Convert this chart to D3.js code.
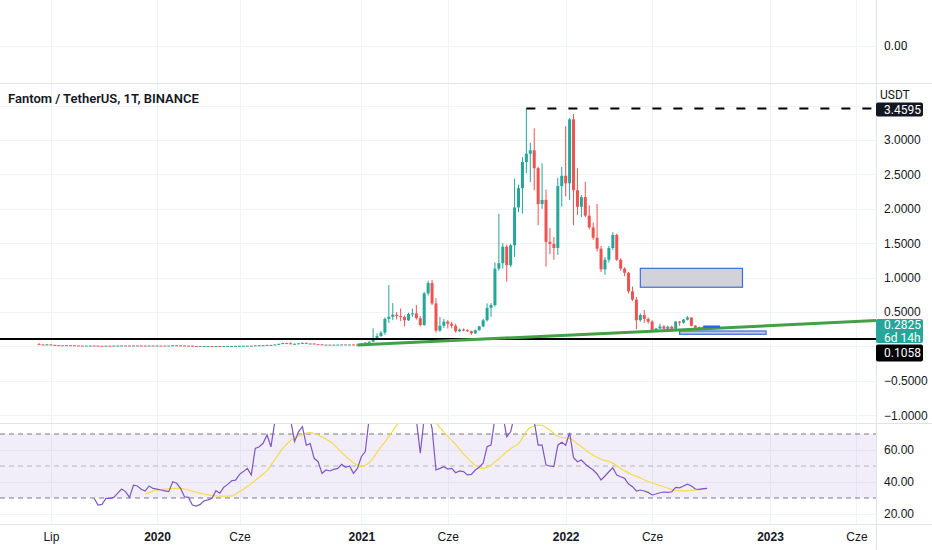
<!DOCTYPE html>
<html>
<head>
<meta charset="utf-8">
<script src="https://cdn.jsdelivr.net/npm/d3@7"></script>
<style>
  body { margin: 0; background: #fff; }
  svg { display: block; font-family: Roboto, "Liberation Sans", sans-serif; }
</style>
</head>
<body>
<svg id="chart" width="932" height="550"></svg>
<script>
// weekly FTM/USDT candles, first bar = week of 2019-06-10
const firstWeek = new Date(Date.UTC(2019, 5, 10));

const opens = [
  .033,.028,.027,.0285,.022,.0175,.016,.0155,.017,.0162,
  .013,.0122,.0112,.0118,.0128,.0115,.0095,.0092,.0105,.0102,
  .011,.012,.013,.0125,.0108,.0132,.0128,.012,.0112,.0128,
  .0122,.0124,.0122,.0118,.0125,.016,.0158,.014,.011,.0105,
  .0045,.0038,.0042,.0046,.0048,.0045,.0053,.005,.0058,.0062,
  .007,.0072,.0085,.0095,.0105,.0096,.015,.0165,.0182,.022,
  .02,.028,.037,.048,.045,.034,.038,.044,.052,.04,
  .042,.032,.03,.024,.0255,.025,.0258,.0262,.0285,.0275,
  .028,.024,.026,.04,.055,.068,.12,.15,.2,.4,
  .43,.46,.44,.43,.38,.47,.48,.41,.31,.77,
  .92,.625,.23,.3,.36,.33,.3,.22,.245,.235,
  .22,.19,.235,.29,.38,.56,.6,1.13,1.21,1.45,
  1.18,1.47,2.02,2.3,2.68,2.8,2.85,2.59,2.07,2.13,
  1.52,1.49,1.43,2.33,2.48,2.37,3.3,2.27,2.03,2.17,
  1.9,1.73,1.58,1.42,1.12,1.26,1.43,1.62,1.26,1.13,
  1.07,.8,.68,.38,.456,.4,.36,.23,.26,.29,
  .255,.287,.255,.36,.345,.39,.42,.3,.27,.28,.262
];
const highs = [
  .048,.038,.035,.03,.024,.019,.0175,.018,.019,.0165,
  .0135,.0125,.0125,.0135,.013,.0118,.01,.011,.0108,.0125,
  .013,.014,.0132,.0128,.014,.014,.013,.0122,.0135,.013,
  .013,.0135,.0128,.013,.018,.0195,.017,.0145,.0118,.0108,
  .005,.0048,.005,.0052,.005,.0055,.006,.006,.0065,.0075,
  .008,.009,.01,.011,.0108,.016,.0175,.019,.023,.023,
  .029,.04,.055,.052,.06,.042,.048,.056,.053,.045,
  .043,.034,.031,.027,.0265,.027,.029,.03,.029,.03,
  .0285,.027,.045,.06,.08,.263,.19,.22,.42,.89,
  .63,.5,.55,.45,.49,.55,.6,.44,.79,.955,
  .965,.7,.43,.4,.38,.36,.33,.26,.26,.25,
  .23,.245,.3,.4,.625,.63,1.22,1.93,1.5,1.48,
  1.49,2.44,2.35,2.75,3.4595,2.96,3.17,2.61,2.66,2.28,
  1.72,1.59,2.45,2.61,3.2,3.32,3.38,2.59,2.2,2.39,
  2.05,1.8,2.07,1.46,1.3,1.46,1.66,1.64,1.28,1.15,
  1.08,.87,.72,.48,.53,.42,.38,.27,.33,.31,
  .3,.3,.37,.37,.4,.44,.42,.31,.29,.29,.29
];
const lows = [
  .025,.026,.02,.021,.016,.014,.015,.015,.016,.012,
  .0118,.0105,.011,.0112,.011,.0085,.0088,.009,.0098,.0095,
  .0105,.0115,.0118,.01,.0105,.012,.0115,.01,.011,.0118,
  .0115,.0118,.011,.0112,.0122,.015,.013,.0105,.0098,.0025,
  .003,.0035,.0038,.0042,.004,.0043,.0048,.0048,.0052,.006,
  .0065,.007,.0082,.009,.0092,.0095,.014,.0158,.0175,.0185,
  .0195,.027,.035,.04,.031,.03,.036,.039,.038,.038,
  .03,.028,.022,.0225,.024,.024,.023,.0255,.026,.027,
  .022,.0235,.024,.035,.05,.065,.1,.14,.17,.34,
  .38,.39,.37,.29,.37,.43,.39,.29,.3,.74,
  .6,.2,.21,.27,.26,.26,.2,.21,.22,.21,
  .166,.18,.23,.28,.36,.43,.58,1.1,1.13,.94,
  1.15,1.3,1.95,1.93,2.52,2.39,2.27,1.76,2,1.16,
  1.34,1.26,1.33,2.03,2.18,2.13,1.76,1.91,1.88,1.88,
  1.7,1.55,1.38,1.08,1.04,1.22,1.4,1.24,1.1,1.02,
  .77,.66,.25,.36,.34,.33,.21,.22,.25,.25,
  .245,.24,.25,.3,.33,.38,.29,.25,.26,.25,.26
];
const closes = [
  .028,.027,.0285,.022,.0175,.016,.0155,.017,.0162,.013,
  .0122,.0112,.0118,.0128,.0115,.0095,.0092,.0105,.0102,.011,
  .012,.013,.0125,.0108,.0132,.0128,.012,.0112,.0128,.0122,
  .0124,.0122,.0118,.0125,.016,.0158,.014,.011,.0105,.0045,
  .0038,.0042,.0046,.0048,.0045,.0053,.005,.0058,.0062,.007,
  .0072,.0085,.0095,.0105,.0096,.015,.0165,.0182,.022,.02,
  .028,.037,.048,.045,.034,.038,.044,.052,.04,.042,
  .032,.03,.024,.0255,.025,.0258,.0262,.0285,.0275,.028,
  .024,.026,.04,.055,.068,.12,.15,.2,.4,.43,
  .46,.44,.43,.38,.47,.48,.41,.31,.77,.92,
  .625,.23,.3,.36,.33,.3,.22,.245,.235,.22,
  .19,.235,.29,.38,.56,.6,1.13,1.21,1.45,1.18,
  1.47,2.02,2.3,2.68,2.8,2.85,2.59,2.07,2.13,1.52,
  1.49,1.43,2.33,2.48,2.37,3.3,2.27,2.03,2.17,1.9,
  1.73,1.58,1.42,1.12,1.26,1.43,1.62,1.26,1.13,1.07,
  .8,.68,.38,.456,.4,.36,.23,.26,.29,.255,
  .287,.255,.36,.345,.39,.42,.3,.27,.28,.262,.2825
];

const rsiStart = 14;
const rsiValues = [
  29.8,25.6,26,29.8,29.8,30.4,33,35.6,34,30.4,
  38,37.5,35.5,34.4,37.5,36,35.5,35,34.5,34,
  40.2,39.2,36,30.8,30.4,25.6,25,26,28.3,28.8,
  29.8,34.6,33,36.7,38.5,40.8,41.2,44.8,46.5,48.5,
  44.4,61,62,64.2,69.4,62,78,84,88,82,
  79,65.2,71.4,74.6,63,64,54.8,52.7,45.4,47.5,
  46.9,47.9,48.5,51,49.2,50,45.4,48.5,55.8,59,
  80,86,88,89,92,90,88,84,82,78,
  82,83,79,58,80,84,73.5,47.5,48.5,49.6,
  48.1,48.5,45.8,46.9,46.5,44.4,44.8,47.5,49.2,51.7,
  62,63.1,80,81,82,68.3,71.4,82,84,86,
  87,86,78,63,63,50.6,50,49.6,63,64.8,
  63,70.8,55.2,52.7,53.75,51.25,49.2,47.5,45,41.25,
  43.75,46.4,48.9,44.4,43.3,42.3,38.75,37.1,34.4,35,
  34.4,33.5,31.9,32.5,33.3,33.75,33.5,33.9,36.7,36.4,
  37.5,38.6,37.5,35.6,35.4,35.8,36
];
// RSI-based MA (yellow), starts at bar 27
const maStart = 27;
const maValues = [
  32.5,33.5,34.3,35,35.3,35.6,35.8,36,36,36,
  35.6,35,34.3,33.6,33,32.5,32,31.6,31.3,31.2,
  31.2,31.2,31.3,32.5,34,35.5,37.2,39,41,43,
  45,47,50.5,54,57.5,61,63.5,66,67.7,68.8,
  69.8,70.6,70.8,70.3,69.4,68.2,66.8,65.3,63.5,61,
  58.5,56,54,52,50.5,49.6,50.5,52,55,58.5,
  62,65,68.5,72,75.5,78.5,81,83,84.5,85,
  84,83,81.5,80,77,74,71,68.5,66,63.5,
  60.5,57.5,55,52.5,50.5,49,48.5,49.3,50.6,52.5,
  54.5,56.8,59,60.8,62.4,64,67.5,71.5,74,75,
  75.6,75.4,74,72.3,70.5,68.7,67.8,67.5,67.3,65.8,
  63.8,62,60.2,58.3,56.8,55.5,54.2,53.4,52.9,51.8,
  50.2,48.5,47,45.7,44.5,43.5,42.5,41.4,40.3,39.4,
  38.6,37.8,37,36.2,35.3,34.8,34.5,34.4,34.5,34.8,
  35,35.2,35.5,35.7
];

const timeTicks = [
  Date.UTC(2019,6,1), Date.UTC(2020,0,6), Date.UTC(2020,5,1), Date.UTC(2021,0,4),
  Date.UTC(2021,5,7), Date.UTC(2022,0,3), Date.UTC(2022,5,6), Date.UTC(2023,0,2), Date.UTC(2023,5,5)
];
const timeLabels = ["Lip","2020","Cze","2021","Cze","2022","Cze","2023","Cze"];
const priceTicks = [3, 2.5, 2, 1.5, 1, 0.5, -0.5, -1];
const priceGrid = [3.5, 3, 2.5, 2, 1.5, 1, 0.5, 0, -0.5, -1];
const rsiTicks = [60, 40, 20];

// drawings on the chart
const athPrice = 3.4595, athDate = Date.UTC(2021,9,25);
const supportPrice = 0.1058;
const trendDates = [Date.UTC(2020,11,28), Date.UTC(2023,6,10)];
const trendPrices = [0.02, 0.375];
const grayZone = { dates: [Date.UTC(2022,4,16), Date.UTC(2022,10,14)], prices: [1.135, 0.86] };
const blueZone = { dates: [Date.UTC(2022,6,25), Date.UTC(2022,11,26)], prices: [0.224, 0.176] };
const blueLine = { dates: [Date.UTC(2022,8,5), Date.UTC(2022,9,5)], price: 0.286 };

const lastPrice = 0.2825;

// ---- layout
const plotRight = 876;
const mainTop = 84, mainBottom = 423, rsiTop = 424, rsiBottom = 524;
const up = "#26a69a", down = "#ef5350", grid = "#f0f3fa", sep = "#e0e3eb", ink = "#131722";

const svg = d3.select("#chart");

const x = d3.scaleUtc().domain([Date.UTC(2020,0,6), Date.UTC(2023,0,2)]).range([157, 770]);
const y = d3.scaleLinear().domain([0, 3]).range([346.4, 140]);
const yr = d3.scaleLinear().domain([20, 60]).range([514, 450]);

const defs = svg.append("defs");
defs.append("clipPath").attr("id", "clipMain")
  .append("rect").attr("x", 0).attr("y", mainTop).attr("width", plotRight).attr("height", mainBottom - mainTop);
defs.append("clipPath").attr("id", "clipRsi")
  .append("rect").attr("x", 0).attr("y", rsiTop).attr("width", plotRight).attr("height", rsiBottom - rsiTop);

// grid
const gridG = svg.append("g");
gridG.selectAll(".vgrid").data(timeTicks).join("line")
  .attr("x1", d => Math.round(x(d)) + 0.5).attr("x2", d => Math.round(x(d)) + 0.5)
  .attr("y1", 0).attr("y2", rsiBottom).attr("stroke", grid);
gridG.append("line").attr("x1", 0).attr("x2", plotRight).attr("y1", 46.5).attr("y2", 46.5).attr("stroke", grid);
gridG.selectAll(".hgrid").data(priceGrid).join("line")
  .attr("x1", 0).attr("x2", plotRight)
  .attr("y1", d => Math.round(y(d)) + 0.5).attr("y2", d => Math.round(y(d)) + 0.5).attr("stroke", grid);
gridG.selectAll(".rgrid").data(rsiTicks).join("line")
  .attr("x1", 0).attr("x2", plotRight)
  .attr("y1", d => Math.round(yr(d)) + 0.5).attr("y2", d => Math.round(yr(d)) + 0.5).attr("stroke", grid);

// ---- main pane
const main = svg.append("g").attr("clip-path", "url(#clipMain)");
const weeks = opens.map((o, i) => ({
  date: d3.utcMonday.offset(firstWeek, i), o, h: highs[i], l: lows[i], c: closes[i]
}));

main.append("rect")
  .attr("x", x(grayZone.dates[0])).attr("y", y(grayZone.prices[0]))
  .attr("width", x(grayZone.dates[1]) - x(grayZone.dates[0]))
  .attr("height", y(grayZone.prices[1]) - y(grayZone.prices[0]))
  .attr("fill", "#d1d3d9").attr("stroke", "#3f6be0").attr("stroke-width", 1.2);
main.append("rect")
  .attr("x", x(blueZone.dates[0])).attr("y", y(blueZone.prices[0]))
  .attr("width", x(blueZone.dates[1]) - x(blueZone.dates[0]))
  .attr("height", y(blueZone.prices[1]) - y(blueZone.prices[0]))
  .attr("fill", "#c2c8e6").attr("stroke", "#3f6be0").attr("stroke-width", 1.2);

const candles = main.append("g");
candles.selectAll("line").data(weeks).join("line")
  .attr("x1", d => x(d.date)).attr("x2", d => x(d.date))
  .attr("y1", d => y(d.h)).attr("y2", d => y(d.l))
  .attr("stroke", d => d.c >= d.o ? up : down).attr("stroke-width", 1);
candles.selectAll("rect").data(weeks).join("rect")
  .attr("x", d => x(d.date) - 1.5).attr("width", 3)
  .attr("y", d => y(Math.max(d.o, d.c)))
  .attr("height", d => Math.max(1, Math.abs(y(d.o) - y(d.c))))
  .attr("fill", d => d.c >= d.o ? up : down);

main.append("line")
  .attr("x1", 0).attr("x2", plotRight)
  .attr("y1", y(supportPrice)).attr("y2", y(supportPrice))
  .attr("stroke", "#000").attr("stroke-width", 2);
main.append("line")
  .attr("x1", x(trendDates[0])).attr("x2", x(trendDates[1]))
  .attr("y1", y(trendPrices[0])).attr("y2", y(trendPrices[1]))
  .attr("stroke", "#43a047").attr("stroke-width", 3);
main.append("line")
  .attr("x1", x(athDate)).attr("x2", plotRight)
  .attr("y1", y(athPrice)).attr("y2", y(athPrice))
  .attr("stroke", "#000").attr("stroke-width", 2).attr("stroke-dasharray", "9,12");
main.append("line")
  .attr("x1", x(blueLine.dates[0])).attr("x2", x(blueLine.dates[1]))
  .attr("y1", y(blueLine.price)).attr("y2", y(blueLine.price))
  .attr("stroke", "#2962ff").attr("stroke-width", 2.5);

svg.append("text").attr("x", 8).attr("y", 103)
  .attr("font-size", 13).attr("font-weight", 600).attr("fill", ink)
  .text("Fantom / TetherUS, 1T, BINANCE");

// ---- RSI pane
const rsi = svg.append("g").attr("clip-path", "url(#clipRsi)");
rsi.append("rect").attr("x", 0).attr("width", plotRight)
  .attr("y", yr(70)).attr("height", yr(30) - yr(70))
  .attr("fill", "rgba(126,87,194,0.1)");
rsi.selectAll(".band").data([70, 50, 30]).join("line")
  .attr("x1", 0).attr("x2", plotRight)
  .attr("y1", d => yr(d)).attr("y2", d => yr(d))
  .attr("stroke", d => d === 50 ? "rgba(120,123,134,0.5)" : "#787b86")
  .attr("stroke-dasharray", "5,4");

const rsiLine = d3.line().x(d => x(d.date)).y(d => yr(d.v));
const rsiPts = rsiValues.map((v, k) => ({ date: d3.utcMonday.offset(firstWeek, rsiStart + k), v }));
const maPts = maValues.map((v, k) => ({ date: d3.utcMonday.offset(firstWeek, maStart + k), v }));
rsi.append("path").datum(maPts).attr("d", rsiLine.curve(d3.curveMonotoneX))
  .attr("fill", "none").attr("stroke", "#f6dc4a").attr("stroke-width", 1.2);
rsi.append("path").datum(rsiPts).attr("d", d3.line().x(d => x(d.date)).y(d => yr(d.v)))
  .attr("fill", "none").attr("stroke", "#7e57c2").attr("stroke-width", 1.2);

// ---- separators
const seps = svg.append("g").attr("stroke", sep);
[83.5, 423.5, 524.5].forEach(v => seps.append("line").attr("x1", 0).attr("x2", 932).attr("y1", v).attr("y2", v));
seps.append("line").attr("x1", plotRight + 0.5).attr("x2", plotRight + 0.5).attr("y1", 0).attr("y2", 550);

// ---- price axis
const axisG = svg.append("g").attr("transform", `translate(${plotRight},0)`);
axisG.call(d3.axisRight(y).tickValues(priceTicks).tickFormat(d3.format(".4f")).tickSize(0).tickPadding(8))
  .call(g => g.select(".domain").remove())
  .call(g => g.selectAll("text").attr("fill", ink).attr("font-size", 12).attr("font-family", null));
const rsiAxis = svg.append("g").attr("transform", `translate(${plotRight},0)`);
rsiAxis.call(d3.axisRight(yr).tickValues(rsiTicks).tickFormat(d3.format(".2f")).tickSize(0).tickPadding(8))
  .call(g => g.select(".domain").remove())
  .call(g => g.selectAll("text").attr("fill", ink).attr("font-size", 12).attr("font-family", null));
svg.append("text").attr("x", plotRight + 8).attr("y", 46).attr("dy", "0.35em")
  .attr("font-size", 12).attr("fill", ink).text("0.00");
svg.append("text").attr("x", plotRight + 4).attr("y", 95).attr("dy", "0.35em")
  .attr("font-size", 12).attr("fill", ink).text("USDT");

function tag(yc, h, bg, lines) {
  svg.append("rect").attr("x", plotRight).attr("y", yc - h / 2).attr("width", 47).attr("height", h)
    .attr("rx", 2).attr("fill", bg);
  lines.forEach((t, k) => svg.append("text")
    .attr("x", plotRight + 8).attr("y", yc - (lines.length - 1) * 6.5 + k * 13).attr("dy", "0.35em")
    .attr("font-size", 12).attr("fill", "#fff").text(t));
}
tag(y(athPrice) + 1, 14, ink, [d3.format(".4f")(athPrice)]);
tag(y(lastPrice) + 4, 24, up, [d3.format(".4f")(lastPrice), "6d 14h"]);
tag(353, 17, "#000", [d3.format(".4f")(supportPrice)]);

// ---- time axis
const timeAxis = svg.append("g").attr("transform", `translate(0,${rsiBottom})`);
timeAxis.call(d3.axisBottom(x).tickValues(timeTicks.map(d => new Date(d)))
    .tickFormat((d, i) => timeLabels[i]).tickSize(0).tickPadding(8))
  .call(g => g.select(".domain").remove())
  .call(g => g.selectAll("text").attr("fill", ink).attr("font-size", 12).attr("font-family", null)
    .attr("font-weight", (d, i) => /^\d+$/.test(timeLabels[i]) ? 600 : 400));
</script>
</body>
</html>
